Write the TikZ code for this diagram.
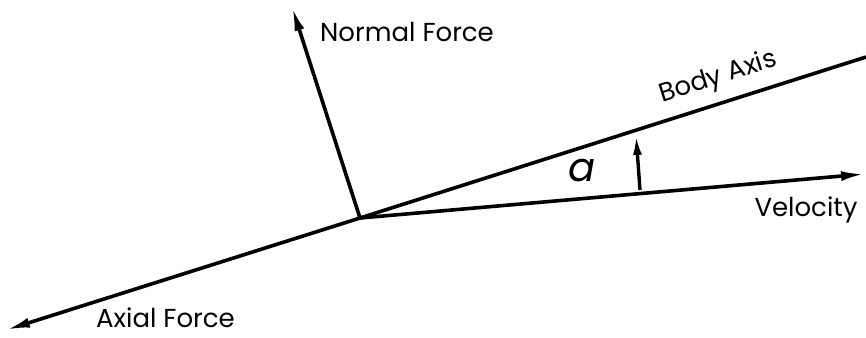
\documentclass[tikz,border=0pt]{standalone}
\usepackage{fontspec}
\setmainfont{Poppins}
\usetikzlibrary{arrows.meta}
\begin{document}
\begin{tikzpicture}[x=1pt,y=-1pt,
  vec/.style={line width=3.6pt,-{Latex[length=24pt,width=10pt]}},
  axis/.style={line width=3.6pt},
  lbl/.style={font=\fontsize{26}{28}\selectfont,inner sep=0pt}]
\useasboundingbox (0,0) rectangle (866,337);
\coordinate (O) at (360,218);
\coordinate (axEnd) at (866,57);
\coordinate (axTip) at (6,330);
\coordinate (nTip) at (292,7);
\coordinate (vTip) at (865,174);
\coordinate (aBase) at (640,190);
\coordinate (aTip) at (636,135);
\draw[axis] (O) -- (axEnd);
\draw[vec] (O) -- (axTip);
\draw[vec] (O) -- (nTip);
\draw[vec] (O) -- (vTip);
\draw[line width=3.4pt,-{Latex[length=20pt,width=9pt]}] (aBase) -- (aTip);
\node[lbl,anchor=west] (nl) at (320,32) {Normal Force};
\node[lbl,rotate=17.6] (bl) at (718,78) {Body Axis};
\node[lbl] (vl) at (806,210) {Velocity};
\node[lbl,anchor=west] (al) at (96,318) {Axial Force};
\node[inner sep=0pt,font=\fontsize{40}{42}\selectfont\itshape] (alpha) at (582,171) {a};
\end{tikzpicture}
\end{document}
